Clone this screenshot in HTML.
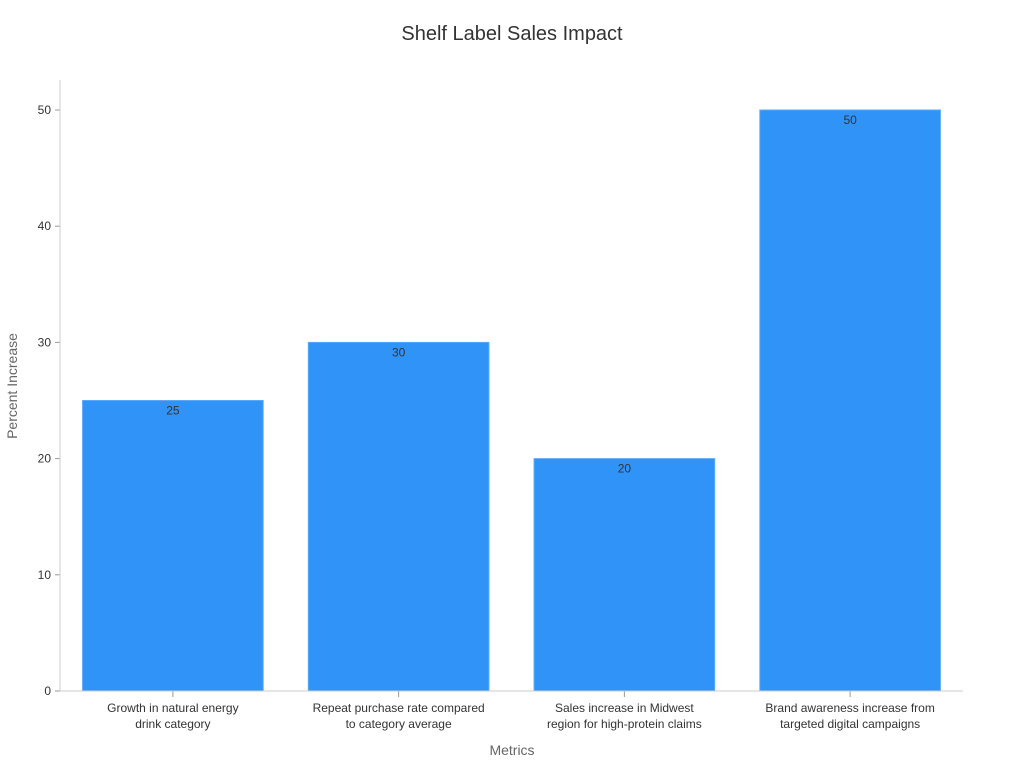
<!DOCTYPE html>
<html><head><meta charset="utf-8"><style>
body{margin:0;background:#fff;font-family:"Liberation Sans","DejaVu Sans",sans-serif;}
</style></head><body>
<svg id="chart" width="1024" height="768" xmlns="http://www.w3.org/2000/svg">
<text x="512" y="40" text-anchor="middle" font-size="20" fill="#333">Shelf Label Sales Impact</text>
<text transform="translate(17,386) rotate(-90)" text-anchor="middle" font-size="14" fill="#666">Percent Increase</text>
<text x="512" y="755" text-anchor="middle" font-size="14" fill="#666">Metrics</text>
<g id="grid"></g><g id="bars"></g>
<line x1="60" y1="80" x2="60" y2="691" stroke="#ccc"/>
<line x1="60" y1="691" x2="963" y2="691" stroke="#ccc"/>
</svg>
<script>
const categories=[["Growth in natural energy","drink category"],["Repeat purchase rate compared","to category average"],["Sales increase in Midwest","region for high-protein claims"],["Brand awareness increase from","targeted digital campaigns"]];
const values=[25,30,20,50];
const yTicks=[0,10,20,30,40,50];
const NS="http://www.w3.org/2000/svg";
const svg=document.getElementById('chart'),bars=document.getElementById('bars'),grid=document.getElementById('grid');
const x0=60,x1=963,yBase=691,yTop=110,yMax=50;
const y=v=>yBase-(v/yMax)*(yBase-yTop);
const band=(x1-x0)/categories.length;
const xc=i=>x0+band*(i+0.5);
function mk(t,a){const e=document.createElementNS(NS,t);for(const k in a)e.setAttribute(k,a[k]);return e;}
yTicks.forEach(t=>{
 const l=mk('line',{x1:55,x2:60,y1:y(t),y2:y(t),stroke:'#999'});
 
 
 grid.appendChild(l);
 const tx=mk('text',{x:51,y:y(t)+4,'text-anchor':'end','font-size':12,fill:'#333'});
 
 
 tx.textContent=t;grid.appendChild(tx);
});
const bw=band*0.8;
values.forEach((v,i)=>{
 const r=mk('rect',{x:xc(i)-bw/2,y:y(v),width:bw,height:yBase-y(v),fill:'#2f93f8',stroke:'#5aa9f9','stroke-width':1});
 
 
 bars.appendChild(r);
 const vt=mk('text',{x:xc(i),y:y(v)+14,'text-anchor':'middle','font-size':12,fill:'#333'});
 
 
 vt.textContent=v;bars.appendChild(vt);
 const tk=mk('line',{x1:xc(i),x2:xc(i),y1:691,y2:697,stroke:'#999'});
 
 
 bars.appendChild(tk);
 categories[i].forEach((ln,j)=>{
  const ct=mk('text',{x:xc(i),y:712+j*16,'text-anchor':'middle','font-size':12,fill:'#333'});
  
  
  ct.textContent=ln;bars.appendChild(ct);
 });
});
</script>
</body></html>
